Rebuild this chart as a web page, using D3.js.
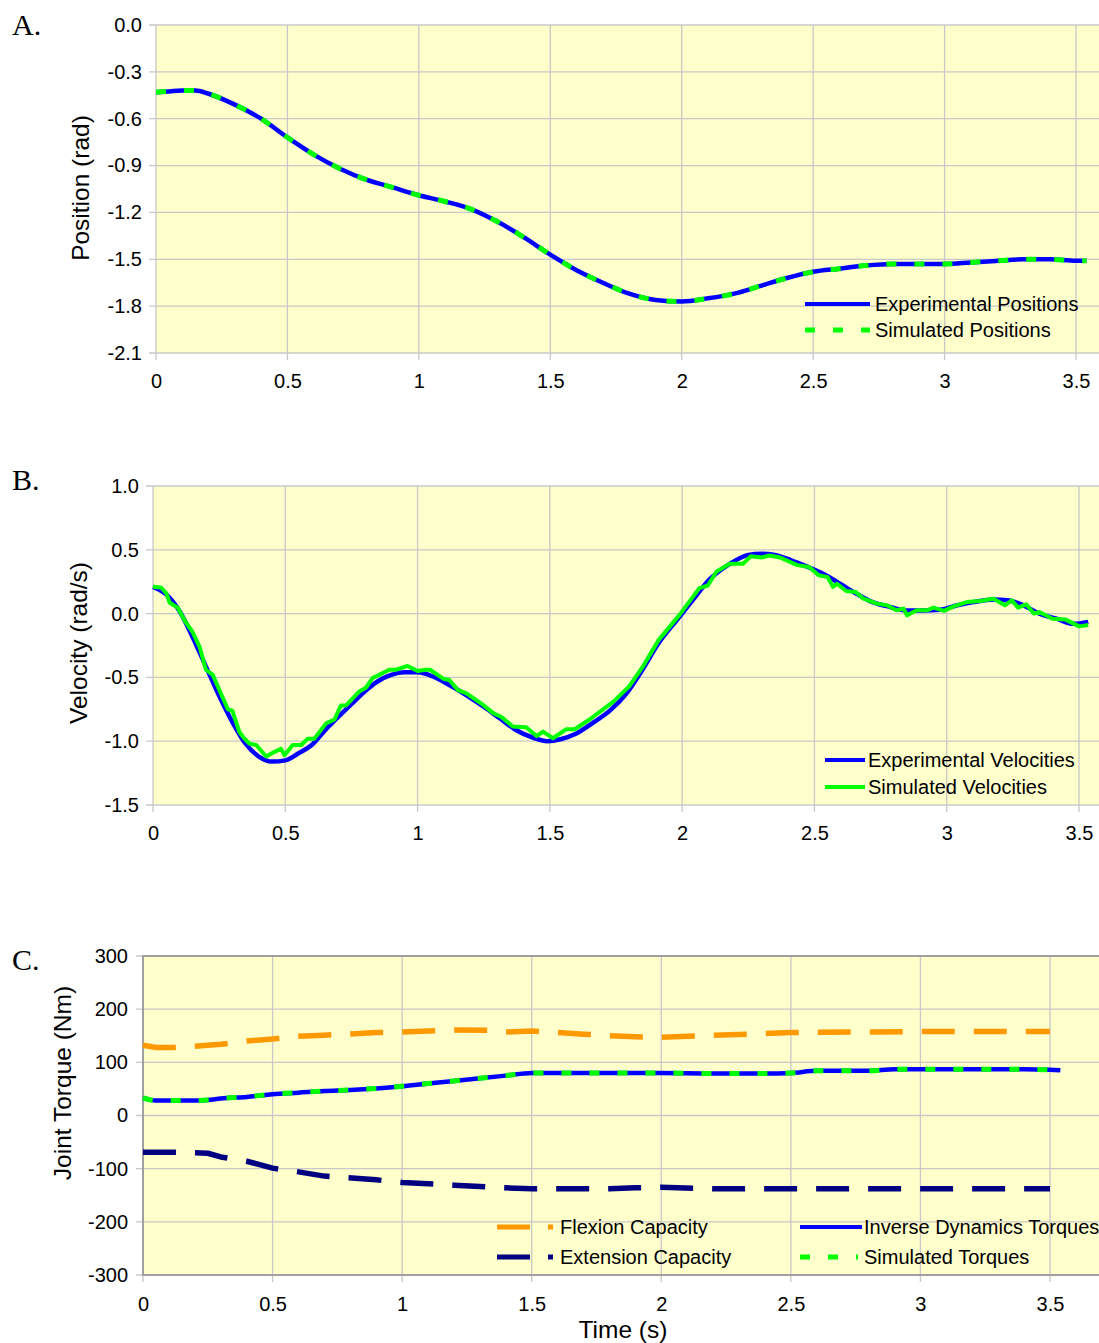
<!DOCTYPE html>
<html>
<head>
<meta charset="utf-8">
<script src="https://cdn.jsdelivr.net/npm/d3@7"></script>
<style>
  body { margin: 0; background: #fff; }
  text { font-family: "Liberation Sans", Arial, sans-serif; fill: #000; }
</style>
</head>
<body>
<svg id="chart" width="1099" height="1343"></svg>
<script>
// ---- data ----
const xTicks = [0, 0.5, 1, 1.5, 2, 2.5, 3, 3.5];
const posTicks = [0, -0.3, -0.6, -0.9, -1.2, -1.5, -1.8, -2.1];
const velTicks = [1.0, 0.5, 0.0, -0.5, -1.0, -1.5];
const torqueTicks = [300, 200, 100, 0, -100, -200, -300];

// A. positions
const posTime = [0, 0.05, 0.1, 0.15, 0.2, 0.3, 0.4, 0.5, 0.6, 0.7, 0.8, 0.9, 1.0, 1.1, 1.2, 1.3, 1.4, 1.5, 1.6, 1.7, 1.8, 1.9, 2.0,
  2.1, 2.2, 2.3, 2.4, 2.5, 2.6, 2.7, 2.8, 2.9, 3.0, 3.1, 3.2, 3.3, 3.4, 3.5, 3.54];
const expPos = [-0.43, -0.425, -0.42, -0.42, -0.44, -0.51, -0.60, -0.72, -0.83, -0.92, -0.99, -1.04, -1.09, -1.13, -1.18, -1.26,
  -1.36, -1.47, -1.57, -1.65, -1.72, -1.76, -1.77, -1.75, -1.72, -1.67, -1.62, -1.58, -1.56, -1.54, -1.53, -1.53, -1.53, -1.52,
  -1.51, -1.50, -1.50, -1.51, -1.51];
const simPos = [-0.43, -0.425, -0.42, -0.42, -0.44, -0.51, -0.60, -0.72, -0.83, -0.92, -0.99, -1.04, -1.09, -1.13, -1.18, -1.26,
  -1.36, -1.47, -1.57, -1.65, -1.72, -1.76, -1.77, -1.75, -1.72, -1.67, -1.62, -1.58, -1.56, -1.54, -1.53, -1.53, -1.53, -1.52,
  -1.51, -1.50, -1.50, -1.51, -1.51];

// B. velocities
const expVelTime = [0, 0.05, 0.1, 0.15, 0.2, 0.25, 0.3, 0.35, 0.4, 0.45, 0.5, 0.55, 0.6, 0.65, 0.7, 0.75, 0.8, 0.85, 0.9, 0.95,
  1.0, 1.06, 1.12, 1.185, 1.25, 1.31, 1.37, 1.44, 1.49, 1.54, 1.6, 1.66, 1.73, 1.79, 1.85, 1.91, 1.98, 2.04, 2.1, 2.18, 2.25,
  2.3, 2.35, 2.41, 2.47, 2.535, 2.6, 2.66, 2.72, 2.79, 2.85, 2.91, 2.975, 3.04, 3.1, 3.18, 3.23, 3.29, 3.35, 3.415, 3.48, 3.535];
const expVel = [0.21, 0.15, 0.02, -0.185, -0.415, -0.645, -0.85, -1.02, -1.12, -1.16, -1.15, -1.095, -1.03, -0.915, -0.81,
  -0.71, -0.61, -0.53, -0.48, -0.46, -0.46, -0.495, -0.56, -0.64, -0.73, -0.82, -0.91, -0.975, -1.0, -0.985, -0.94, -0.86,
  -0.755, -0.625, -0.44, -0.235, -0.05, 0.105, 0.26, 0.39, 0.46, 0.47, 0.46, 0.42, 0.37, 0.31, 0.23, 0.155, 0.09, 0.05, 0.025,
  0.025, 0.03, 0.065, 0.09, 0.11, 0.105, 0.065, 0.0, -0.04, -0.08, -0.065];
const simVelTime = [0, 0.03, 0.05, 0.063, 0.094, 0.12, 0.15, 0.176, 0.2, 0.226, 0.25, 0.283, 0.3, 0.327, 0.346, 0.365, 0.39,
  0.428, 0.453, 0.484, 0.497, 0.528, 0.56, 0.585, 0.61, 0.654, 0.686, 0.71, 0.73, 0.78, 0.805, 0.83, 0.855, 0.893, 0.918, 0.962,
  1.0, 1.03, 1.047, 1.097, 1.12, 1.153, 1.185, 1.248, 1.286, 1.317, 1.36, 1.41, 1.45, 1.474, 1.512, 1.562, 1.594, 1.65, 1.74,
  1.8, 1.85, 1.91, 1.99, 2.065, 2.097, 2.13, 2.18, 2.23, 2.26, 2.3, 2.33, 2.37, 2.435, 2.48, 2.516, 2.55, 2.57, 2.585, 2.62,
  2.655, 2.686, 2.736, 2.774, 2.81, 2.837, 2.85, 2.887, 2.925, 2.95, 2.99, 3.026, 3.076, 3.126, 3.177, 3.22, 3.246, 3.27, 3.3,
  3.33, 3.35, 3.4, 3.45, 3.5, 3.535];
const simVel = [0.21, 0.205, 0.16, 0.085, 0.046, -0.056, -0.146, -0.26, -0.44, -0.48, -0.595, -0.75, -0.76, -0.93, -0.98,
  -1.02, -1.03, -1.12, -1.09, -1.06, -1.11, -1.03, -1.03, -0.98, -0.98, -0.86, -0.83, -0.72, -0.72, -0.61, -0.58, -0.505,
  -0.48, -0.44, -0.44, -0.41, -0.45, -0.44, -0.44, -0.51, -0.52, -0.6, -0.625, -0.716, -0.78, -0.81, -0.885, -0.89, -0.96,
  -0.925, -0.977, -0.906, -0.906, -0.83, -0.69, -0.57, -0.42, -0.21, -0.01, 0.2, 0.22, 0.33, 0.39, 0.39, 0.45, 0.44, 0.455,
  0.44, 0.38, 0.365, 0.30, 0.286, 0.21, 0.234, 0.177, 0.17, 0.117, 0.078, 0.065, 0.026, 0.039, -0.013, 0.026, 0.026, 0.047,
  0.021, 0.057, 0.09, 0.099, 0.117, 0.065, 0.104, 0.047, 0.073, 0.0, 0.013, -0.04, -0.047, -0.1, -0.09];

// C. torques
const torqueTime = [0, 0.05, 0.1, 0.2, 0.25, 0.3, 0.4, 0.5, 0.6, 0.7, 0.8, 0.9, 1.0, 1.1, 1.2, 1.3, 1.4, 1.5, 1.6, 1.8, 2.0,
  2.2, 2.4, 2.5, 2.6, 2.8, 2.9, 3.0, 3.2, 3.4, 3.5, 3.54];
const invDynTorque = [33, 28, 28, 28, 29, 32, 35, 40, 43, 46, 48, 51, 55, 60, 65, 70, 75, 80, 80, 80, 80, 79, 79, 80, 84, 84,
  87, 87, 87, 87, 86, 85];
const simTorque = [33, 28, 28, 28, 29, 32, 35, 40, 43, 46, 48, 51, 55, 60, 65, 70, 75, 80, 80, 80, 80, 79, 79, 80, 84, 84,
  87, 87, 87, 87, 86, 85];
const capTime = [0, 0.05, 0.12, 0.25, 0.3, 0.4, 0.5, 0.6, 0.7, 0.9, 1.0, 1.2, 1.35, 1.4, 1.5, 1.6, 1.7, 1.8, 1.9, 2.0, 2.2,
  2.4, 2.5, 3.0, 3.5];
const flexionCap = [132, 128, 128, 132, 134, 140, 144, 149, 151, 156, 157, 161, 160, 157, 159, 156, 153, 150, 148, 147, 151,
  154, 156, 158, 158];
const extensionCap = [-69, -69, -69, -71, -78, -86, -99, -106, -114, -121, -126, -131, -135, -136, -138, -138, -138, -138,
  -136, -135, -138, -138, -138, -138, -138];

// ---- drawing ----
const svg = d3.select("#chart");
const W = 1099;
const BLUE = "#0000ff", GREEN = "#00ff00", ORANGE = "#ff9900", NAVY = "#000080";
const TICK_FONT = 20, LEGEND_FONT = 20, TITLE_FONT = 24.5;

function zip(xs, ys) { return xs.map((x, i) => ({ t: x, v: ys[i] })); }

function panel(cfg) {
  const x = d3.scaleLinear().domain([0, 3.5]).range([cfg.left, cfg.x35]);
  const y = d3.scaleLinear().domain(cfg.ydomain).range([cfg.bottom, cfg.top]);
  const g = svg.append("g");

  g.append("rect")
    .attr("x", cfg.left).attr("y", cfg.top)
    .attr("width", W - cfg.left).attr("height", cfg.bottom - cfg.top)
    .attr("fill", "#ffffcc");

  // grid
  g.append("g").selectAll("line").data(cfg.yticks).join("line")
    .attr("x1", cfg.left - 7).attr("x2", W)
    .attr("y1", d => y(d)).attr("y2", d => y(d))
    .attr("stroke", "#c8c8c8").attr("stroke-width", 1.3);
  g.append("g").selectAll("line").data(xTicks).join("line")
    .attr("x1", d => x(d)).attr("x2", d => x(d))
    .attr("y1", cfg.top).attr("y2", cfg.bottom + 7)
    .attr("stroke", "#c8c8c8").attr("stroke-width", 1.3);

  if (cfg.frame) {
    g.append("path")
      .attr("d", `M${W},${cfg.top}H${cfg.left}V${cfg.bottom}H${W}`)
      .attr("fill", "none").attr("stroke", "#a0a0a0").attr("stroke-width", 2);
  }

  // axes as plain labels
  const yAxis = d3.axisLeft(y).tickValues(cfg.yticks).tickSize(0).tickPadding(cfg.left - cfg.yLabelX)
    .tickFormat(cfg.yfmt);
  g.append("g").attr("transform", `translate(${cfg.left},0)`).call(yAxis)
    .call(a => a.select(".domain").remove())
    .selectAll("text").attr("font-size", TICK_FONT).attr("font-family", "Liberation Sans, Arial, sans-serif");
  const xAxis = d3.axisBottom(x).tickValues(xTicks).tickSize(0).tickPadding(cfg.xLabelY - cfg.bottom)
    .tickFormat(d => String(d));
  g.append("g").attr("transform", `translate(0,${cfg.bottom})`).call(xAxis)
    .call(a => a.select(".domain").remove())
    .selectAll("text").attr("font-size", TICK_FONT).attr("font-family", "Liberation Sans, Arial, sans-serif");

  g.append("text")
    .attr("transform", `translate(${cfg.titleX},${cfg.titleY}) rotate(-90)`)
    .attr("text-anchor", "middle").attr("font-size", TITLE_FONT)
    .text(cfg.title);

  g.append("text")
    .attr("x", 12).attr("y", cfg.letterY)
    .style("font-family", "Liberation Serif, Times New Roman, serif")
    .attr("font-size", 30)
    .text(cfg.letter);

  const line = d3.line().x(d => x(d.t)).y(d => y(d.v));
  cfg.series.forEach(s => {
    g.append("path")
      .datum(zip(s.t, s.v))
      .attr("d", line.curve(s.curve || d3.curveLinear))
      .attr("fill", "none")
      .attr("stroke", s.color)
      .attr("stroke-width", s.width)
      .attr("stroke-dasharray", s.dash || null)
      .attr("stroke-linejoin", "round");
  });

  cfg.legend.forEach(l => {
    g.append("line")
      .attr("x1", l.x1).attr("x2", l.x2).attr("y1", l.y).attr("y2", l.y)
      .attr("stroke", l.color).attr("stroke-width", l.width)
      .attr("stroke-dasharray", l.dash || null);
    g.append("text")
      .attr("x", l.tx).attr("y", l.y + 7)
      .attr("font-size", LEGEND_FONT)
      .text(l.label);
  });
  return { x, y };
}

panel({
  letter: "A.", letterY: 35, left: 156, x35: 1076, top: 25, bottom: 353,
  ydomain: [-2.1, 0], yticks: posTicks, yfmt: d => d.toFixed(1),
  yLabelX: 142, xLabelY: 374,
  title: "Position (rad)", titleX: 89, titleY: 188,
  series: [
    { t: posTime, v: expPos, color: BLUE, width: 4.5, curve: d3.curveMonotoneX },
    { t: posTime, v: simPos, color: GREEN, width: 5, dash: "10,18", curve: d3.curveMonotoneX }
  ],
  legend: [
    { x1: 805, x2: 870, y: 304, color: BLUE, width: 4, tx: 875, label: "Experimental Positions" },
    { x1: 805, x2: 870, y: 330, color: GREEN, width: 5, dash: "10,18", tx: 875, label: "Simulated Positions" }
  ]
});

panel({
  letter: "B.", letterY: 490, left: 153, x35: 1079, top: 486, bottom: 805,
  ydomain: [-1.5, 1.0], yticks: velTicks, yfmt: d => d.toFixed(1),
  yLabelX: 139, xLabelY: 826,
  title: "Velocity (rad/s)", titleX: 87, titleY: 643,
  series: [
    { t: expVelTime, v: expVel, color: BLUE, width: 4.5, curve: d3.curveMonotoneX },
    { t: simVelTime, v: simVel, color: GREEN, width: 4 }
  ],
  legend: [
    { x1: 825, x2: 865, y: 760, color: BLUE, width: 4, tx: 868, label: "Experimental Velocities" },
    { x1: 825, x2: 865, y: 787, color: GREEN, width: 4, tx: 868, label: "Simulated Velocities" }
  ]
});

panel({
  letter: "C.", letterY: 970, left: 143, x35: 1050, top: 956, bottom: 1275, frame: true,
  ydomain: [-300, 300], yticks: torqueTicks, yfmt: d => String(d),
  yLabelX: 128, xLabelY: 1297,
  title: "Joint Torque (Nm)", titleX: 71, titleY: 1083,
  series: [
    { t: capTime, v: flexionCap, color: ORANGE, width: 5.5, dash: "33,19" },
    { t: capTime, v: extensionCap, color: NAVY, width: 5.5, dash: "33,19" },
    { t: torqueTime, v: invDynTorque, color: BLUE, width: 4.5, curve: d3.curveMonotoneX },
    { t: torqueTime.slice(0, -1), v: simTorque.slice(0, -1), color: GREEN, width: 5, dash: "10,18", curve: d3.curveMonotoneX }
  ],
  legend: [
    { x1: 497, x2: 553, y: 1227, color: ORANGE, width: 5, dash: "33,18", tx: 560, label: "Flexion Capacity" },
    { x1: 497, x2: 553, y: 1257, color: NAVY, width: 5, dash: "33,18", tx: 560, label: "Extension Capacity" },
    { x1: 800, x2: 862, y: 1227, color: BLUE, width: 4, tx: 864, label: "Inverse Dynamics Torques" },
    { x1: 800, x2: 858, y: 1257, color: GREEN, width: 5, dash: "10,18", tx: 864, label: "Simulated Torques" }
  ]
});

svg.append("text")
  .attr("x", 623).attr("y", 1338)
  .attr("text-anchor", "middle").attr("font-size", TITLE_FONT)
  .text("Time (s)");
</script>
</body>
</html>
